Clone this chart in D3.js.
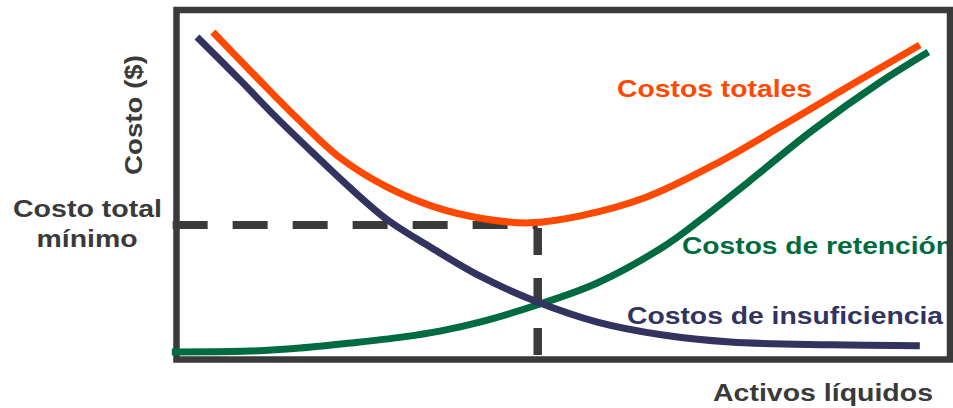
<!DOCTYPE html>
<html>
<head>
<meta charset="utf-8">
<script src="https://cdn.jsdelivr.net/npm/d3@7"></script>
<style>
  html, body { margin: 0; padding: 0; background: #fff; }
  svg { display: block; }
  text { font-family: "Liberation Sans", Arial, Helvetica, sans-serif; font-weight: bold; }
</style>
</head>
<body>
<svg id="chart" width="953" height="408"></svg>
<script>
// ---- Data (x = activos líquidos, y = costo; both on 0–100 conceptual scale) ----
const insuficienciaX = [2.65, 8.2, 12.7, 17.5, 22.2, 27.3, 32.8, 39.2, 46.6, 54.4, 62.9, 71.6, 84.5, 96.1];
const insuficienciaY = [92.3, 80.0, 69.7, 59.4, 49.6, 39.9, 32.2, 23.9, 16.5, 10.7, 7.0, 5.0, 4.2, 3.9];

const totalesX = [4.7, 10.2, 15.7, 21.1, 27.0, 33.4, 39.9, 45.7, 52.2, 60.8, 69.4, 78.0, 86.7, 96.1];
const totalesY = [93.7, 81.1, 68.8, 57.8, 49.6, 43.6, 40.2, 39.1, 41.1, 46.5, 55.6, 66.5, 77.9, 90.0];

const retencionX = [-0.6, 9.5, 16.0, 22.4, 29.1, 34.2, 39.2, 46.6, 54.4, 62.9, 67.7, 74.1, 82.3, 91.0, 97.2];
const retencionY = [2.15, 2.4, 3.3, 4.7, 6.4, 8.2, 10.7, 15.6, 21.9, 32.2, 39.9, 51.1, 65.7, 79.4, 88.0];

const minimoX = 46.7;   // activos at minimum total cost
const minimoY = 38.5;   // minimum total cost

const seriesLabels = ["Costos totales", "Costos de retención", "Costos de insuficiencia"];
const axisLabels = ["Costo ($)", "Activos líquidos"];
const minLabel = ["Costo total", "mínimo"];

// ---- Setup ----
const svg = d3.select("#chart");
const x = d3.scaleLinear().domain([0, 100]).range([176.5, 950]);
const y = d3.scaleLinear().domain([0, 100]).range([359.5, 10]);

const C_ORANGE = "#ff4800", C_NAVY = "#32335f", C_GREEN = "#006b40", C_DARK = "#3a3a3a";

function textW(sel, len) { return sel.attr("textLength", len).attr("lengthAdjust", "spacingAndGlyphs"); }

// ---- Text labels (under the frame) ----
textW(svg.append("text").attr("x", 617).attr("y", 97).attr("font-size", 23).attr("fill", C_ORANGE)
  .text(seriesLabels[0]), 195);
textW(svg.append("text").attr("x", 682).attr("y", 254).attr("font-size", 23).attr("fill", C_GREEN)
  .text(seriesLabels[1]), 271);
textW(svg.append("text").attr("x", 627).attr("y", 324).attr("font-size", 23).attr("fill", C_NAVY)
  .text(seriesLabels[2]), 316);

textW(svg.append("text").attr("x", 87.5).attr("y", 217).attr("text-anchor", "middle").attr("font-size", 23).attr("fill", C_DARK)
  .text(minLabel[0]), 149);
textW(svg.append("text").attr("x", 87).attr("y", 247).attr("text-anchor", "middle").attr("font-size", 23).attr("fill", C_DARK)
  .text(minLabel[1]), 101);

textW(svg.append("text").attr("x", 713).attr("y", 401).attr("font-size", 23).attr("fill", C_DARK)
  .text(axisLabels[1]), 220);
textW(svg.append("text").attr("transform", "translate(142,175) rotate(-90)").attr("font-size", 23).attr("fill", C_DARK)
  .text(axisLabels[0]), 120);

// ---- Frame ----
svg.append("rect")
  .attr("x", x(0)).attr("y", y(100))
  .attr("width", x(100) - x(0)).attr("height", y(0) - y(100))
  .attr("fill", "none").attr("stroke", C_DARK).attr("stroke-width", 6.5);

// ---- Dashed guide lines ----
svg.append("line")
  .attr("x1", x(-0.5)).attr("x2", x(minimoX))
  .attr("y1", y(minimoY)).attr("y2", y(minimoY))
  .attr("stroke", C_DARK).attr("stroke-width", 8).attr("stroke-dasharray", "35,25");
svg.append("line")
  .attr("x1", x(minimoX)).attr("x2", x(minimoX))
  .attr("y1", y(minimoY) + 3).attr("y2", y(0))
  .attr("stroke", C_DARK).attr("stroke-width", 8.5).attr("stroke-dasharray", "27,23");

// ---- Curves ----
const line = d3.line().x(d => x(d[0])).y(d => y(d[1])).curve(d3.curveCatmullRom.alpha(0.5));
function series(xs, ys) { return xs.map((v, i) => [v, ys[i]]); }

svg.append("path").datum(series(retencionX, retencionY)).attr("d", line)
  .attr("fill", "none").attr("stroke", C_GREEN).attr("stroke-width", 7);
svg.append("path").datum(series(insuficienciaX, insuficienciaY)).attr("d", line)
  .attr("fill", "none").attr("stroke", C_NAVY).attr("stroke-width", 7);
svg.append("path").datum(series(totalesX, totalesY)).attr("d", line)
  .attr("fill", "none").attr("stroke", C_ORANGE).attr("stroke-width", 7);
</script>
</body>
</html>
